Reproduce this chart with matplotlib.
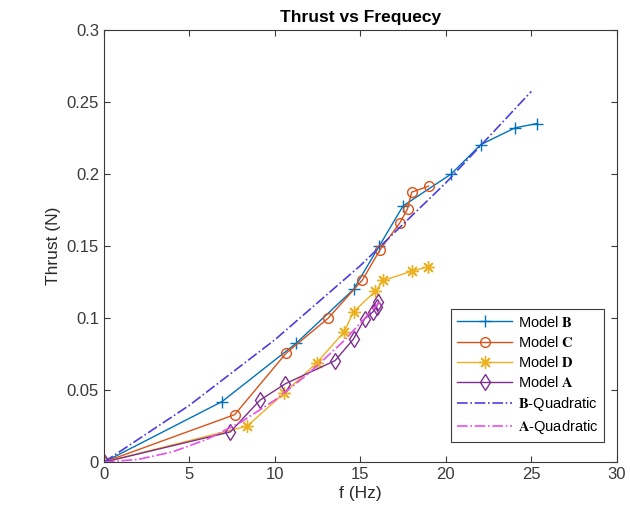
import matplotlib
matplotlib.use("Agg")
import matplotlib.pyplot as plt

plt.rcParams['font.family'] = ['Liberation Sans', 'DejaVu Sans']
plt.rcParams['mathtext.fontset'] = 'stix'

# Model B
b_f = [0, 6.9, 11.25, 14.6, 16.1, 17.5, 20.3, 22.05, 24.05, 25.35]
b_t = [0, 0.042, 0.0826, 0.120, 0.150, 0.178, 0.200, 0.2206, 0.2322, 0.2352]
# Model C
c_f = [0, 7.65, 10.65, 13.12, 15.12, 16.15, 17.3, 17.76, 18.0, 18.99]
c_t = [0, 0.033, 0.0756, 0.100, 0.1265, 0.1475, 0.166, 0.176, 0.1875, 0.1917]
# Model D
d_f = [0, 8.37, 10.55, 12.45, 14.05, 14.6, 15.88, 16.35, 18.0, 18.95]
d_t = [0, 0.025, 0.048, 0.069, 0.0905, 0.1045, 0.1187, 0.1262, 0.1326, 0.1356]
# Model A
a_f = [0, 7.4, 9.12, 10.62, 13.52, 14.6, 15.25, 15.75, 15.95, 16.05]
a_t = [0, 0.021, 0.043, 0.0545, 0.0705, 0.0855, 0.0995, 0.1045, 0.108, 0.111]
# B-Quadratic
bq_f = [0, 5, 10, 15, 20, 25]
bq_t = [0, 0.0395, 0.085, 0.1365, 0.194, 0.2575]
# A-Quadratic
aq_f = [0, 2, 4, 6, 8, 10, 12, 14, 16.2]
aq_t = [0, 0.0019, 0.0071, 0.0157, 0.0277, 0.0431, 0.0618, 0.0838, 0.112]

xticks = [0, 5, 10, 15, 20, 25, 30]
yticks = [0, 0.05, 0.1, 0.15, 0.2, 0.25, 0.3]
ytick_labels = ['0', '0.05', '0.1', '0.15', '0.2', '0.25', '0.3']

fig = plt.figure(figsize=(6.3, 5.21), dpi=100)
ax = fig.add_axes([0.165, 0.113, 0.814, 0.829])

lw = 1.0
asterisk = (8, 2, 0)
ax.plot(b_f, b_t, color='#0072BD', marker='+', ms=9, mew=1.0, lw=lw, label=r'Model $\mathbf{B}$')
ax.plot(c_f, c_t, color='#D95319', marker='o', ms=7, mfc='none', mew=1.0, lw=lw, label=r'Model $\mathbf{C}$')
ax.plot(d_f, d_t, color='#EDB120', marker=asterisk, ms=9, mew=1.0, lw=lw, label=r'Model $\mathbf{D}$')
ax.plot(a_f, a_t, color='#7E2F8E', marker='d', ms=8, mfc='none', mew=1.0, lw=lw, label=r'Model $\mathbf{A}$')
ax.plot(bq_f, bq_t, color='#4a3fe0', ls='-.', lw=1.2, label=r'$\mathbf{B}$-Quadratic')
ax.plot(aq_f, aq_t, color='#e650e6', ls='-.', lw=1.2, label=r'$\mathbf{A}$-Quadratic')

ax.set_xlim(0, 30)
ax.set_ylim(0, 0.3)
ax.set_xticks(xticks)
ax.set_yticks(yticks)
ax.set_yticklabels(ytick_labels)
ax.tick_params(direction='in', top=True, right=True, labelsize=12, colors='#3a3a3a', length=4)
for s in ax.spines.values():
    s.set_color('#3a3a3a')
    s.set_linewidth(0.8)

ax.set_xlabel('f (Hz)', fontsize=12.5, color='#2a2a2a', labelpad=3)
ax.set_ylabel('Thrust (N)', fontsize=12.5, color='#2a2a2a', labelpad=4)
ax.set_title('Thrust vs Frequecy', fontsize=12.5, fontweight='bold', pad=6)

leg = ax.legend(loc='lower right', bbox_to_anchor=(0.99, 0.03), fontsize=10.5,
                fancybox=False, edgecolor='#3a3a3a', framealpha=1,
                handlelength=3.8, borderpad=0.4, labelspacing=0.35, handletextpad=0.4)
leg.get_frame().set_linewidth(0.8)

fig.savefig('out.png', dpi=100)
